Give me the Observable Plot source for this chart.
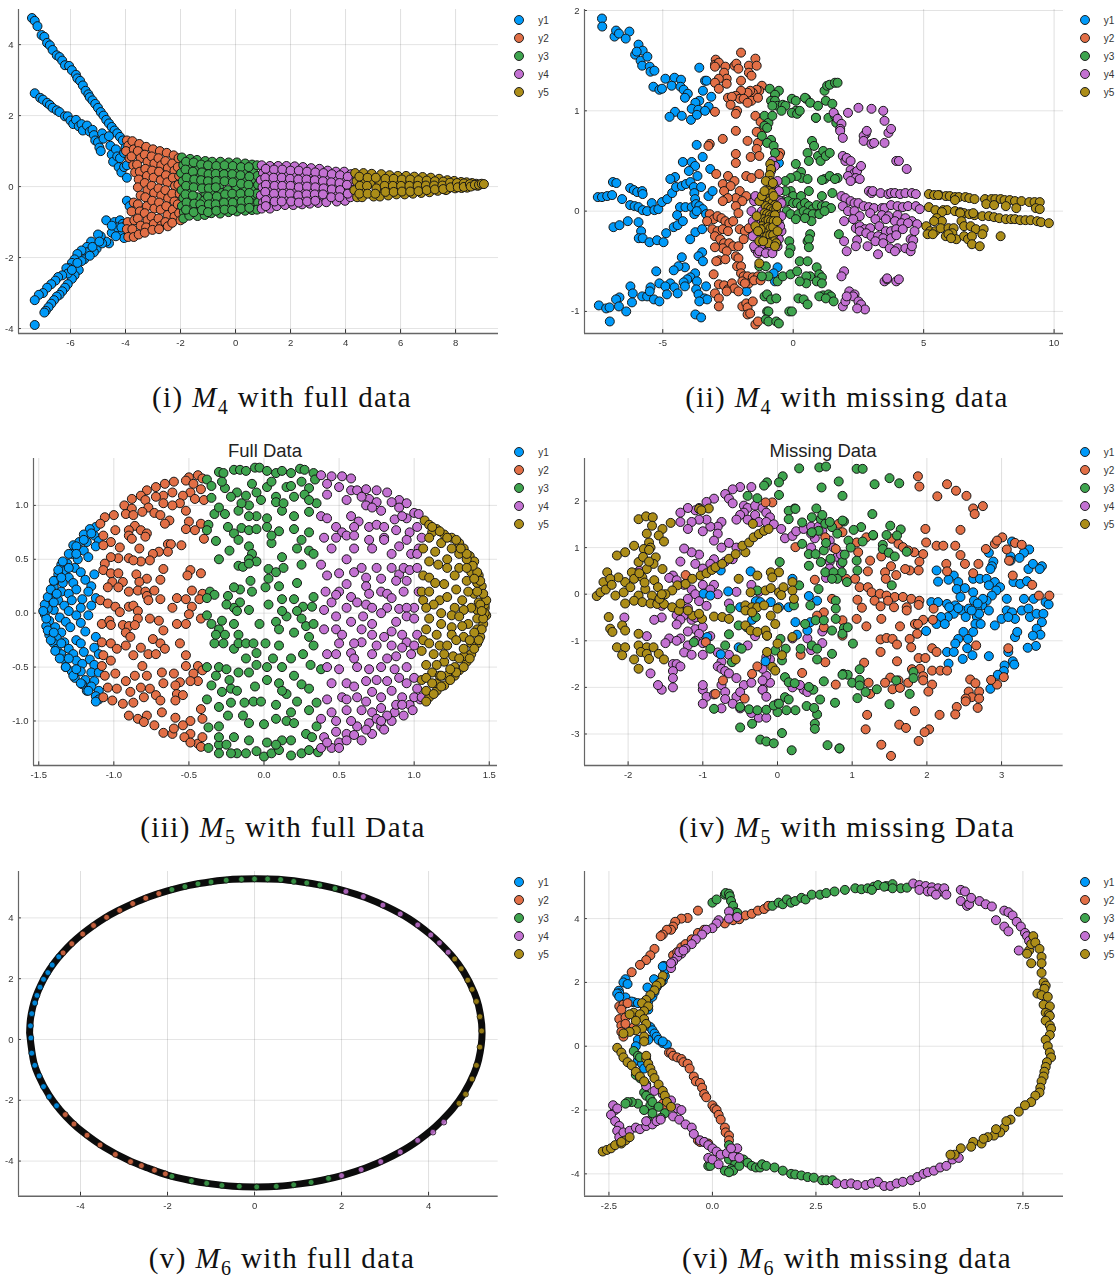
<!DOCTYPE html>
<html><head><meta charset="utf-8">
<script src="https://cdn.jsdelivr.net/npm/d3@7/dist/d3.min.js"></script>
<script src="https://cdn.jsdelivr.net/npm/@observablehq/plot@0.6/dist/plot.umd.min.js"></script>
<style>
html,body{margin:0;padding:0;background:#fff}
#page{position:relative;width:1120px;height:1275px;overflow:hidden;font-family:"Liberation Sans",sans-serif}
#page svg{position:absolute;overflow:visible;background:none;filter:blur(.35px)}
.cap{position:absolute;font-family:"Liberation Serif",serif;font-size:29px;color:#111;white-space:nowrap;transform:translateX(-50%);letter-spacing:1.4px;line-height:30px}
.cap i{font-style:italic}.cap sub{font-size:20px;line-height:0}
.ttl{position:absolute;font-size:18.5px;color:#222;transform:translateX(-50%);white-space:nowrap;line-height:20px}
.lg{position:absolute;font-size:10px;color:#333;line-height:12px}
.lgd{position:absolute;width:8px;height:8px;border-radius:50%;border:1px solid #222}
</style></head><body><div id="page"></div>
<script>
const seriesNames=["y1","y2","y3","y4","y5"];
const seriesColors=["#009AF9","#E26F46","#3EA44E","#C371D2","#AC8D18"];

// (i) M4 full
const a1=[-7.4,4.75,-7.3,4.67,-7.2,4.52,-7.05,4.27,-6.95,4.22,-6.85,4.05,-6.75,3.98,-6.65,3.85,-6.5,3.7,-6.4,3.65,-6.3,3.55,-6.2,3.42,-6.05,3.4,-5.95,3.28,-5.8,3.15,-5.75,3.05,-5.65,2.98,-5.55,2.85,-5.45,2.7,-5.35,2.6,-5.3,2.52,-5.2,2.43,-5.1,2.33,-5,2.22,-4.9,2.1,-4.8,2,-4.7,1.88,-4.6,1.78,-4.5,1.68,-4.4,1.58,-4.3,1.5,-4.2,1.4,-4.1,1.3,-7.3,2.63,-7.1,2.5,-7,2.45,-6.85,2.36,-6.75,2.3,-6.65,2.22,-6.5,2.15,-6.4,2.1,-6.2,1.98,-6.1,1.98,-6,1.86,-5.9,1.76,-5.8,1.88,-5.7,1.7,-5.6,1.76,-5.55,1.58,-5.4,1.72,-5.3,1.55,-5.2,1.6,-5.15,1.45,-5.1,1.3,-5,1.25,-4.95,1.1,-4.9,1,-4.85,1.5,-4.8,1.35,-4.6,1.42,-4.55,1.15,-4.5,.9,-4.45,.7,-4.35,1.05,-4.3,.85,-4.25,.55,-4.2,.8,-4.15,.4,-4.05,.95,-4,1.1,-4.05,.55,-3.95,.25,-3.95,.6,-3.95,-.4,-3.85,-.55,-4.7,-.95,-4.4,-1,-4.2,-.95,-4.1,-1.05,-4,-1.1,-4.4,-1.3,-4.2,-1.3,-4.05,-1.45,-4.6,-1.6,-4.5,-1.3,-4.7,-1.55,-4.9,-1.4,-5,-1.35,-5.05,-1.75,-5.25,-1.55,-5.4,-1.7,-5.15,-1.85,-5.4,-1.85,-5.6,-1.8,-5.75,-1.9,-5.5,-2.05,-5.85,-2.05,-5.95,-2.15,-6.05,-2.3,-6.15,-2.3,-5.7,-2.35,-5.85,-2.5,-5.95,-2.6,-6.1,-2.45,-6.3,-2.5,-6.45,-2.55,-6.55,-2.65,-6.7,-2.75,-6.85,-2.85,-7,-3,-7.15,-3.05,-7.3,-3.2,-6.1,-2.75,-6.2,-2.85,-6.3,-2.95,-6.4,-3.05,-6.5,-3.1,-6.6,-3.2,-6.7,-3.3,-6.8,-3.4,-6.9,-3.5,-6.95,-3.55,-7.3,-3.9,-4.3,-1.15,-4.5,-1.1,-4.15,-1.15,-4.35,-1.4,-4.85,-1.6,-5.2,-1.7,-4.95,-1.55,-5.3,-1.95,-5.6,-2.1,-5.75,-2.15,-5.95,-2.35];
const a2=[-3.95,1.3,-3.9,1.15,-3.98,1,-3.85,.8,-3.92,-1,-3.95,-1.2,-3.9,-1.42,-3.75,1.28,-3.7,1.05,-3.78,.85,-3.72,.6,-3.65,.4,-3.7,-.45,-3.78,-.7,-3.68,-.95,-3.75,-1.2,-3.7,-1.42,-3.5,1.2,-3.55,1,-3.45,.8,-3.58,.62,-3.48,.42,-3.52,.2,-3.55,-.02,-3.45,-.25,-3.55,-.5,-3.48,-.7,-3.55,-.9,-3.45,-1.1,-3.52,-1.35,-3.25,1.12,-3.3,.9,-3.2,.7,-3.28,.5,-3.22,.3,-3.3,.1,-3.2,-.1,-3.28,-.3,-3.22,-.55,-3.3,-.75,-3.2,-.95,-3.25,-1.15,-3.3,-1.3,-3,1.05,-3.05,.85,-2.95,.65,-3.03,.45,-2.98,.25,-3.05,.02,-2.96,-.18,-3.03,-.4,-2.95,-.62,-3.05,-.85,-2.97,-1.05,-3.02,-1.22,-2.75,1,-2.8,.8,-2.7,.6,-2.78,.42,-2.72,.18,-2.8,-.05,-2.7,-.25,-2.78,-.45,-2.72,-.65,-2.8,-.9,-2.7,-1.1,-2.78,-1.2,-2.5,.95,-2.55,.72,-2.46,.52,-2.53,.32,-2.48,.12,-2.55,-.1,-2.45,-.33,-2.52,-.55,-2.47,-.8,-2.55,-1,-2.46,-1.12,-2.25,.88,-2.3,.65,-2.22,.45,-2.28,.25,-2.2,.02,-2.3,-.2,-2.22,-.42,-2.28,-.65,-2.22,-.85,-2.3,-1.02,-2.07,.8,-2.1,.55,-2.05,.3,-2.08,.05,-2.03,-.2,-2.1,-.5,-2.05,-.75,-2,-.95];
const a3=[-1.95,.82,-1.9,.6,-1.98,.38,-1.92,.15,-1.96,-.1,-1.9,-.32,-1.95,-.55,-1.88,-.72,-1.9,-.9,-1.65,.78,-1.7,.55,-1.62,.32,-1.68,.1,-1.62,-.15,-1.7,-.38,-1.62,-.6,-1.68,-.82,-1.4,.75,-1.35,.52,-1.42,.3,-1.36,.08,-1.4,-.3,-1.35,-.52,-1.42,-.72,-1.38,-.83,-1.1,.72,-1.15,.5,-1.08,.28,-1.14,.05,-1.1,-.18,-1.15,-.4,-1.08,-.62,-1.12,-.8,-.85,.7,-.9,.48,-.82,.28,-.88,.08,-.8,-.12,-.88,-.35,-.82,-.58,-.88,-.75,-.55,.7,-.6,.46,-.52,.26,-.58,.04,-.5,-.18,-.58,-.4,-.5,-.6,-.56,-.76,-.25,.68,-.3,.45,-.22,.25,-.28,-.1,-.22,-.35,-.3,-.55,-.25,-.72,.05,.68,0,.45,.08,.22,.02,0,.08,-.3,0,-.5,.05,-.7,.35,.65,.3,.42,.38,.18,.32,-.05,.38,-.28,.3,-.48,.35,-.68,.6,.62,.65,.4,.58,.2,.66,-.05,.6,-.28,.66,-.48,.6,-.66,.78,.6,.8,.3,.82,.05,.78,-.2,.82,-.45,.78,-.65,-1.8,.7,-1.82,.48,-1.78,.25,-1.8,.02,-1.82,-.22,-1.78,-.45,-1.8,-.65,-1.52,.68,-1.55,.42,-1.5,.2,-1.52,-.02,-1.55,-.25,-1.5,-.48,-1.52,-.72,-1.25,.62,-1.22,.4,-1.25,.18,-1.22,-.05,-1.28,-.5,-1.22,-.66,-1,.6,-.98,.35,-1,.15,-.97,-.05,-1,-.28,-.97,-.5,-1,-.72,-.7,.58,-.72,.36,-.7,.16,-.72,-.02,-.68,-.28,-.72,-.5,-.7,-.68,-.4,.6,-.42,.35,-.4,.15,-.38,-.22,-.42,-.45,-.4,-.65,-.1,.58,-.12,.35,-.1,.12,-.12,-.2,-.1,-.45,-.12,-.66,.2,.55,.18,.32,.2,.08,.18,-.2,.22,-.42,.2,-.62,.48,.55,.5,.28,.47,.05,.5,-.18,.48,-.4,.5,-.6];
const a4=[.95,.6,1,.38,.92,.18,.98,-.02,.92,-.25,1,-.45,.95,-.62,1.25,.58,1.2,.36,1.28,.15,1.2,-.08,1.28,-.3,1.2,-.5,1.25,-.62,1.55,.58,1.5,.36,1.58,.12,1.5,-.12,1.58,-.35,1.5,-.55,1.85,.58,1.8,.36,1.88,.12,1.8,-.08,1.88,-.3,1.8,-.52,2.15,.57,2.1,.32,2.18,.12,2.1,-.12,2.18,-.35,2.1,-.52,2.45,.55,2.4,.32,2.48,.08,2.4,-.15,2.48,-.38,2.42,-.5,2.75,.52,2.7,.3,2.78,.15,2.7,-.12,2.78,-.3,2.7,-.48,3.05,.5,3,.3,3.08,.08,3,-.12,3.08,-.3,3,-.46,3.35,.45,3.3,.25,3.38,.05,3.3,-.15,3.38,-.32,3.3,-.44,3.65,.42,3.6,.22,3.68,.02,3.6,-.2,3.68,-.42,3.95,.42,3.9,.2,3.98,0,3.9,-.2,3.98,-.4,4.2,.35,4.18,.12,4.22,-.1,4.18,-.3,1.1,.5,1.08,.25,1.1,.05,1.08,-.15,1.1,-.38,1.1,-.55,1.4,.48,1.38,.25,1.42,.02,1.4,-.2,1.42,-.42,1.7,.48,1.68,.25,1.7,.02,1.72,-.2,1.68,-.42,2,.45,1.98,.22,2,.02,1.98,-.2,2.02,-.42,2.3,.45,2.28,.2,2.3,-.02,2.28,-.25,2.3,-.45,2.6,.42,2.58,.2,2.6,0,2.58,-.22,2.6,-.42,2.9,.4,2.88,.18,2.9,-.02,2.88,-.22,2.9,-.4,3.2,.38,3.18,.15,3.2,-.05,3.18,-.22,3.5,.35,3.48,.12,3.5,-.08,3.48,-.3,3.8,.32,3.78,.1,3.8,-.1,3.78,-.3,4.08,.28,4.05,.05,4.08,-.2];
const a5=[4.35,.38,4.4,.15,4.32,-.1,4.42,-.3,4.65,.38,4.6,.15,4.68,-.12,4.6,-.3,4.95,.36,4.9,.1,5.02,-.28,5.3,.35,5.25,.12,5.32,-.08,5.25,-.28,5.6,.32,5.55,.12,5.62,-.06,5.55,-.25,5.9,.3,5.85,.12,5.92,-.05,5.85,-.22,6.2,.3,6.15,.1,6.22,-.05,6.15,-.22,6.5,.28,6.45,.1,6.52,-.08,6.45,-.2,6.8,.27,6.75,.1,6.82,-.04,6.75,-.18,7.1,.25,7.05,.1,7.12,-.02,7.05,-.16,7.4,.22,7.35,.08,7.42,-.04,7.35,-.12,7.7,.18,7.65,.06,7.72,-.06,7.65,-.1,7.95,.16,7.9,.05,7.98,-.05,8.2,.13,8.15,.04,8.22,-.04,8.4,.12,8.45,.02,8.42,-.03,8.6,.1,8.65,.03,8.75,.08,8.8,.02,8.9,.06,4.5,.28,4.52,.02,4.5,-.2,4.8,.25,4.78,.02,4.8,-.2,5.1,.25,5.12,-.05,5.08,-.2,5.45,.22,5.42,.02,5.45,-.15,5.75,.22,5.72,.02,5.75,-.15,6.05,.2,6.02,.02,6.05,-.14,6.35,.2,6.32,.02,6.35,-.14,6.65,.18,6.62,.02,6.65,-.13,6.95,.17,6.92,.03,6.95,-.1,7.25,.15,7.22,.03,7.25,-.08,7.55,.14,7.52,.03,7.55,-.07,7.8,.11,7.82,-.02,8.05,.1,8.08,-.02,8.3,.09,8.3,-.01,8.52,.07,8.55,0,8.7,.05,8.85,.05,8.95,.08,9.03,.07];

// (ii) M4 missing
const b1=[-7.33,1.92,-7.32,1.84,-6.85,1.74,-6.79,1.8,-6.68,1.77,-6.28,1.79,-6.42,1.72,-5.93,1.66,-6.06,1.56,-5.77,1.6,-6,1.59,-5.85,1.5,-5.59,1.54,-5.79,1.45,-5.5,1.44,-5.47,1.39,-5.32,1.4,-5.36,1.24,-5.13,1.21,-5.03,1.22,-4.9,1.32,-4.55,1.33,-4.66,1.25,-4.3,1.31,-4.32,1.24,-4.2,1.21,-4.04,1.17,-4.15,1.13,-3.6,1.43,-3.38,1.3,-3.32,1.3,-3.46,1.2,-3.14,1.14,-3.6,1.1,-3.75,1.08,-3.89,1.02,-3.64,1.01,-3.24,1.04,-3.38,1,-4.53,.99,-4.74,.94,-4.27,.95,-3.92,.91,-3.69,.96,-3.7,.66,-3.47,.54,-4.23,.49,-3.89,.49,-3.76,.45,-4,.4,-3.18,.42,-3.67,.35,-4.53,.34,-4.71,.32,-6.91,.29,-6.78,.28,-7.49,.14,-7.33,.14,-7.13,.15,-6.94,.16,-6.25,.23,-6.11,.21,-5.98,.19,-5.79,.2,-5.77,.17,-6.56,.12,-6.25,.06,-6.08,.05,-5.93,.04,-5.77,.01,-5.6,0,-5.42,.08,-5.32,.01,-5.17,.02,-5.03,.09,-4.83,.12,-4.64,.18,-4.49,.24,-4.27,.25,-4.11,.27,-3.94,.29,-3.81,.24,-3.53,.24,-3.79,.18,-3.76,.12,-3.25,.15,-3.09,.2,-4.34,.04,-4.13,.04,-3.89,.04,-3.72,.07,-3.6,.05,-3.47,.02,-3.79,-.03,-3.7,0,-4.45,-.04,-3.34,-.03,-6.89,-.16,-6.66,-.14,-6.34,-.1,-5.93,-.11,-5.83,-.2,-5.92,-.27,-5.77,-.27,-5.51,-.31,-5.22,-.29,-4.97,-.31,-4.87,-.22,-4.58,-.16,-4.43,-.14,-4.23,-.1,-3.75,-.21,-3.49,-.18,-3.95,-.28,-3.49,-.41,-3.63,-.45,-3.46,-.5,-4.27,-.46,-4.15,-.56,-4.4,-.55,-4.58,-.59,-5.25,-.6,-3.76,-.62,-3.94,-.66,-4.06,-.68,-4.2,-.71,-3.69,-.7,-5.13,-.72,-4.71,-.72,-4.9,-.75,-4.55,-.76,-5.47,-.76,-6.24,-.75,-6.15,-.82,-5.79,-.85,-5.6,-.85,-5.5,-.8,-5.34,-.88,-5.13,-.9,-4.84,-.83,-4.43,-.82,-4.15,-.75,-3.72,-.78,-3.63,-.83,-3.34,-.75,-3.4,-.87,-3.3,-.88,-3.6,-.9,-6.66,-.86,-6.79,-.88,-6.18,-.91,-6.68,-.95,-7.45,-.94,-7.17,-.97,-7.04,-.96,-6.4,-1,-7.03,-1.1,-3.75,-1.03,-3.53,-1.06,-.6,-.56,-.7,-.7,-.75,-.62,-1.79,-.8,-.55,.48];
const b2=[-2,1.58,-1.45,1.52,-2.97,1.51,-3,1.46,-2.85,1.48,-3,1.44,-2.6,1.44,-2.25,1.45,-2.18,1.47,-2.1,1.42,-1.7,1.45,-1.4,1.45,-2.65,1.38,-1.7,1.38,-1.6,1.35,-2.55,1.32,-2.85,1.32,-2.55,1.27,-2,1.3,-3,1.28,-2.85,1.22,-1.2,1.25,-1.3,1.2,-1.4,1.21,-1.55,1.18,-1.65,1.2,-1.75,1.18,-2,1.2,-2.2,1.15,-2.05,1.12,-1.9,1.12,-1.6,1.1,-1.75,1.08,-1.35,1.13,-2.5,1.13,-2.35,1.14,-2.4,1.06,-2.15,1,-2.2,.97,-3,.99,-1.45,.95,-1.25,.89,-1.2,.8,-1.4,.79,-2.2,.8,-2.7,.72,-1.75,.7,-1.35,.68,-1.4,.62,-2.2,.57,-1.63,.54,-2.2,.48,-3.2,.67,-3.25,.65,-1.3,.55,-.5,.58,-.55,.55,-2.95,.37,-2.5,.35,-2.25,.3,-1.8,.35,-1.6,.33,-1.3,.37,-2.7,.27,-2.4,.25,-2.65,.2,-2.05,.2,-1.8,.15,-2.2,.13,-2.5,.13,-2.7,.1,-1.95,.1,-2.2,.05,-2.1,-.02,-3.2,-.03,-3.05,-.08,-2.9,-.05,-2.75,-.07,-2.6,-.1,-2.45,-.12,-3.3,-.1,-3.1,-.18,-2.9,-.2,-2.7,-.18,-2.5,-.2,-2.3,-.1,-2.05,-.18,-1.85,-.2,-1.7,-.17,-3,-.25,-2.8,-.28,-2.65,-.32,-2.45,-.32,-2.3,-.35,-2.1,-.35,-1.9,-.28,-2.7,-.37,-3,-.36,-2.55,-.4,-2.2,-.45,-2.1,-.47,-2.85,-.49,-2.95,-.5,-2.6,-.48,-2.15,-.55,-2,-.55,-2,-.62,-1.9,-.65,-1.75,-.65,-1.95,-.7,-1.7,-.72,-1.55,-.66,-1.35,-.65,-3.05,-.63,-2.85,-.73,-2.65,-.74,-2.5,-.78,-2.35,-.72,-2.25,-.77,-2.1,-.8,-2.55,-.8,-1.85,-.72,-1.5,-.69,-1.25,-.69,-3,-.82,-2.85,-.87,-2.85,-.95,-1.95,-.95,-1.8,-.92,-1.75,-.96,-1.55,-.9,-1.75,-1.03,-1.65,-1.02,-1.45,-1.13,-1.35,-1.1];
const b3=[-.9,1.22,-.55,1.2,-.7,1.16,-.85,1.1,-.7,1.1,-.6,1.05,-.4,1.06,-.3,1.05,-.05,1.12,.1,1.1,.1,1,-.45,1,-.8,1.05,-.05,.98,.15,.97,.25,1,.5,1.12,.45,1.13,.65,1.08,.87,.93,.95,1.05,1.2,1.2,1.3,1.25,1.4,1.26,1.6,1.28,1.7,1.28,1.25,1.1,1.5,1.07,1.35,.93,1.6,.95,1.65,.88,.87,.93,-1.1,.95,-.95,.88,-1.1,.85,-1,.83,-1.2,.75,-.8,.95,-.85,.71,-1,.68,-.75,.65,-.7,.58,.72,.7,.8,.65,.55,.58,.95,.55,1.05,.5,.6,.5,1.15,.6,1.25,.55,1.4,.58,.1,.47,.3,.39,.32,.33,.55,.32,.13,.35,-.1,.33,-.3,.3,1.2,.32,1.1,.31,1.4,.35,1.7,.33,1.6,.32,-.1,.2,-.3,.2,0,.15,.3,.15,.6,.2,1.1,.15,1.5,.18,-.4,.1,-.2,.1,0,.08,.15,.08,.3,.05,.45,.08,.6,.05,.75,.02,.9,.06,1.1,.05,1.25,.05,1.45,.03,-.25,0,-.1,-.03,.2,-.03,.4,0,.55,-.02,.75,-.03,1,-.03,1.2,0,.7,-.1,.1,-.08,.45,-.07,.55,-.3,.65,-.23,1.75,-.23,.6,-.28,-.15,-.3,-.1,-.37,.6,-.36,-.15,-.42,.25,-.5,.55,-.5,.9,-.56,1,-.63,.65,-.65,-1.3,-.55,-1.05,-.55,-.95,-.65,-1.2,-.65,-.6,-.7,-.4,-.65,-.1,-.63,.15,-.6,.5,-.65,.5,-.72,.25,-.7,1.1,-.66,.9,-.7,1.1,-.72,1.15,-.84,1,-.85,1.35,-.83,1.45,-.85,1.25,-.87,1.55,-.9,-1.1,-.85,-1,-.83,-.85,-.88,-.65,-.87,.2,-.87,.4,-.88,.55,-.93,-1,-1,-.95,-1,-.15,-1,-.05,-1,-1.05,-1.08,-.95,-1.1,-.65,-1.1,-.55,-1.12];
const b4=[-.8,.5,-.7,.45,-.85,.4,-.6,.3,-.75,.25,-.55,.2,-.5,.1,-.45,.08,-1,.15,-1.15,.1,-.9,.05,-1.2,0,-1.25,-.1,-1.3,-.2,-1.25,-.3,-1.1,-.38,-1.2,-.35,-1.45,-.38,-1.35,-.42,-1,-.4,-.8,-.4,-.6,-.35,-.45,-.2,-.45,-.05,-.55,-.12,-.9,-.35,-1.55,-.1,-1.6,0,-1.5,.1,-1.45,.15,-1.55,-.25,-1.5,-.35,-1.3,-.4,-1.05,-.42,-.8,-.42,-.55,-.28,-.5,-.15,1.55,.98,1.7,.92,1.85,.87,1.8,.82,1.8,.8,1.9,.73,2.1,.98,2.5,1.03,3,1.02,3.45,1,2.78,.77,2.7,.75,2.82,.8,3.5,.9,3.5,.68,2.7,.7,3,.67,3.1,.68,3.65,.78,3.75,.82,3.95,.5,4.05,.5,4.35,.42,1.9,.55,2,.5,2.05,.53,2.2,.5,2.2,.41,2.35,.38,2.45,.4,2.1,.35,2.4,.33,2.55,.32,2.6,.45,2.2,.3,2.9,.2,3,.18,3.05,.2,3.35,.18,3.65,.17,3.75,.18,3.9,.18,4.1,.17,4.3,.18,4.55,.18,4.7,.17,1.85,.15,2,.13,2.2,.1,2.35,.08,2.5,.08,2.7,.05,2.9,.04,3.1,.03,3.4,.03,3.5,.03,3.75,.06,4,.05,4.2,.04,4.4,.05,4.7,.05,4.85,.02,1.9,.05,2.1,0,2.35,0,2.55,-.05,2.95,-.02,3.4,-.04,3.65,-.05,4,-.04,4.3,-.07,4.55,-.1,4.75,-.13,1.95,-.1,2.3,-.08,3.15,-.08,3.55,-.08,3.9,-.1,4.15,-.12,4.4,-.12,4.65,-.2,2.4,-.17,2.55,-.15,2.75,-.18,2.95,-.17,3.3,-.15,3.55,-.2,3.75,-.2,3.95,-.18,4.2,-.18,2.55,-.2,2.8,-.22,3,-.25,3.25,-.25,3.45,-.27,3.75,-.27,3.95,-.24,4.5,-.28,1.95,-.3,2.45,-.29,4.6,-.29,1.95,-.6,2.05,-.4,2.4,-.35,2.85,-.35,3.15,-.3,3.45,-.32,3.7,-.37,4,-.37,4.3,-.37,3.9,-.4,4.5,-.4,3.25,-.43,4.55,-.35,3.5,-.7,3.6,-.68,3.6,-.67,3.95,-.7,4.05,-.68,1.85,-.65,2.15,-.8,2.35,-.83,2.3,-.85,2.5,-.9,2.6,-.93,2.75,-.98,1.9,-.95,2,-.9,2.45,-.97,2.05,-.85];
const b5=[-.88,.47,-.85,.42,-.9,.36,-.87,.3,-.85,.25,-.92,.2,-.82,.18,-.98,.12,-.9,.1,-.8,.08,-.7,.06,-1.05,.05,-.95,.03,-.85,.02,-.75,.01,-.65,.02,-1.1,-.02,-1,-.03,-.9,-.04,-.8,-.05,-.7,-.04,-1.15,-.08,-1.05,-.1,-.95,-.09,-.85,-.1,-.75,-.1,-1.2,-.15,-1.08,-.17,-.97,-.16,-.87,-.17,-.77,-.16,-1.1,-.22,-1,-.25,-.88,-.24,-.77,-.24,-.85,-.31,-.72,-.3,-1.25,-.18,-.95,-.32,-1.3,-.52,-1.4,-.05,-1.45,-.15,-1.35,-.2,-1.3,-.3,-.62,-.1,-.6,-.2,-.65,-.32,-.62,.05,-1.3,.1,-1.2,.15,-1.1,.2,-1.05,.3,-.75,.15,-.78,.28,-.7,-.35,-1.15,-.3,5.2,.17,5.4,.16,5.6,.16,5.85,.15,6,.15,6.2,.14,6.35,.14,6.6,.14,6.75,.13,6.95,.12,5.55,.16,6.2,.11,7.35,.12,7.6,.12,7.75,.12,7.95,.12,8.1,.11,8.3,.11,8.5,.1,8.75,.1,9.05,.09,9.25,.09,9.45,.09,7.4,.07,7.7,.06,8.15,.05,8.55,.03,9.3,.03,9.45,.02,5.2,.04,5.45,.01,5.75,.01,5.9,.01,5.7,-.01,6.2,0,6.4,-.01,6.55,-.02,6.75,-.03,6.95,-.04,7.25,-.05,7.5,-.05,7.7,-.06,7.9,-.07,8.15,-.08,8.35,-.08,8.5,-.08,8.7,-.09,8.9,-.09,9.1,-.09,9.35,-.1,9.5,-.11,9.8,-.12,6.9,-.02,6.4,-.02,5.5,-.07,5.7,-.1,5.4,-.1,5.1,-.15,5.25,-.2,5.45,-.2,5.65,-.17,5.95,-.17,6.15,-.17,6.1,-.22,6.45,-.1,6.55,-.15,6.8,-.15,7,-.18,7.3,-.18,5.15,-.23,5.35,-.23,5.85,-.25,5.95,-.23,6.25,-.28,6.05,-.27,6.55,-.25,6.7,-.28,6.85,-.25,7.25,-.23,6.85,-.33,7.15,-.35,7.95,-.25];

// (iii) M5 full
const c1=[-1.12,.8,-1.16,.78,-1.2,.73,-1.13,.72,-1.1,.67,-1.18,.66,-1.23,.66,-1.27,.63,-1.12,.62,-1.2,.58,-1.28,.55,-1.17,.52,-1.24,.5,-1.31,.46,-1.35,.45,-1.26,.42,-1.33,.39,-1.37,.36,-1.22,.38,-1.13,.36,-1.3,.33,-1.39,.3,-1.34,.28,-1.27,.28,-1.19,.31,-1.15,.25,-1.25,.22,-1.4,.24,-1.35,.2,-1.3,.18,-1.42,.16,-1.17,.2,-1.21,.13,-1.37,.12,-1.44,.1,-1.28,.12,-1.33,.07,-1.12,.14,-1.4,.03,-1.44,.04,-1.46,-.01,-1.3,.02,-1.22,.05,-1.15,.07,-1.17,-.02,-1.25,-.02,-1.36,-.04,-1.43,-.07,-1.32,-.08,-1.22,-.09,-1.45,-.12,-1.39,-.13,-1.29,-.13,-1.35,-.18,-1.43,-.2,-1.38,-.23,-1.19,-.17,-1.12,-.22,-1.4,-.28,-1.33,-.27,-1.25,-.25,-1.38,-.33,-1.3,-.33,-1.22,-.28,-1.13,-.32,-1.1,-.38,-1.35,-.38,-1.27,-.38,-1.2,-.36,-1.16,-.43,-1.33,-.43,-1.25,-.44,-1.32,-.5,-1.21,-.47,-1.13,-.48,-1.28,-.54,-1.22,-.54,-1.15,-.55,-1.1,-.55,-1.26,-.6,-1.19,-.62,-1.13,-.63,-1.21,-.66,-1.15,-.68,-1.1,-.72,-1.18,-.72,-1.12,-.77,-1.1,-.8,-1.46,.08,-1.45,-.05,-1.47,.02,-1.44,.15,-1.42,.22,-1.4,.3,-1.37,.4,-1.34,.48,-1.3,.55,-1.25,.62,-1.2,.68,-1.15,.74,-1.44,-.16,-1.42,-.25,-1.39,-.35,-1.36,-.42,-1.32,-.5,-1.27,-.58,-1.22,-.65,-1.17,-.72,-1.12,-.82,-1.4,.1,-1.38,.18,-1.35,.33,-1.3,.42,-1.25,.55,-1.4,-.18,-1.35,-.28,-1.3,-.42,-1.25,-.52];
const c2=[-.44,1.28,-.5,1.26,-.52,1.23,-.6,1.22,-.66,1.2,-.72,1.17,-.78,1.14,-.82,1.09,-.88,1.06,-.93,1,-1,.91,-1.06,.89,-1.09,.83,-.41,1.25,-.47,1.2,-.42,1.15,-.49,1.12,-.54,1.09,-.61,1.12,-.67,1.09,-.72,1.08,-.79,1.05,-.4,1.05,-.46,1.06,-.56,1.02,-.61,1,-.67,1.02,-.77,.98,-.73,.93,-.69,.91,-.81,.94,-.88,.97,-.92,.92,-.87,.91,-.52,.95,-.5,.85,-.63,.86,-.66,.83,-.52,.78,-.42,.83,-.46,.77,-.4,.69,-.86,.81,-.9,.77,-.99,.77,-1.07,.72,-.82,.77,-.78,.74,-.79,.71,-.9,.72,-.88,.69,-1.02,.66,-1.07,.63,-.96,.61,-.83,.6,-.64,.64,-.62,.64,-.55,.63,-.64,.57,-.7,.57,-.74,.55,-.76,.49,-.82,.48,-.9,.51,-.87,.49,-.97,.51,-1.02,.52,-1.06,.46,-1.07,.4,-1.02,.37,-.97,.37,-.94,.29,-1.01,.29,-1.04,.24,-.97,.24,-.85,.36,-.78,.32,-.83,.29,-.69,.31,-.67,.41,-.49,.4,-.51,.35,-.42,.37,-.9,.2,-.84,.21,-.79,.2,-.73,.21,-.69,.13,-.78,.16,-.77,.12,-.48,.21,-.41,.18,-.43,.13,-.58,.14,-.52,.13,-1.09,.12,-1.04,.09,-.99,.06,-.96,.01,-.9,.06,-.87,.07,-.84,.02,-.61,.05,-.48,.06,-.5,-.01,-1.08,-.1,-1.03,-.07,-1.02,-.11,-.94,-.11,-.9,-.12,-.84,-.05,-.76,-.05,-.7,-.07,-.86,-.11,-.92,-.18,-.89,-.22,-.67,-.16,-.58,-.1,-.52,-.1,-.42,-.05,-.74,-.24,-.69,-.28,-.66,-.33,-.56,-.28,-1.08,-.27,-1.02,-.28,-.92,-.3,-.82,-.32,-.98,-.33,-.77,-.38,-.72,-.38,-.52,-.39,-1.07,-.39,-1.08,-.49,-1.02,-.44,-.87,-.39,-.52,-.49,-.44,-.49,-.41,-.53,-.81,-.49,-.68,-.55,-.6,-.56,-.47,-.56,-.44,-.63,-.49,-.63,-.67,-.65,-.56,-.64,-.59,-.67,-1.06,-.58,-.99,-.56,-.92,-.63,-.86,-.58,-.78,-.58,-1.04,-.69,-.98,-.7,-.82,-.69,-.76,-.7,-.89,-.73,-.58,-.75,-.54,-.76,-.59,-.81,-.72,-.76,-.69,-.81,-.8,-.78,-1.07,-.78,-1.01,-.81,-.94,-.84,-.87,-.83,-.42,-.89,-.9,-.95,-.84,-.98,-.78,-.95,-.68,-.92,-.59,-.97,-.49,-1,-.41,-.98,-.8,-1.01,-.73,-1.04,-.67,-1.11,-.61,-1.12,-.54,-1.04,-.49,-1.12,-.44,-1.21,-.41,-1.15,-.53,-1.15,-.49,-1.2,-.6,-1.07,-.42,-1.24];
const c3=[-.38,1.24,-.3,1.31,-.27,1.3,-.2,1.33,-.16,1.33,-.12,1.32,-.06,1.35,-.03,1.35,.02,1.32,.08,1.3,.12,1.32,.18,1.3,.24,1.34,.27,1.33,.33,1.3,-.35,1.18,-.26,1.16,-.18,1.12,-.12,1.09,-.08,1.2,.02,1.17,.08,1.08,.15,1.17,.25,1.22,.3,1.16,-.35,1.07,-.22,1.08,-.1,1,-.02,1.05,.08,1.03,.2,1.08,.27,1.1,.35,1.02,-.26,.92,-.33,.92,-.17,.95,-.05,.9,.02,.88,.12,.95,.2,.9,.3,.94,-.37,.82,-.38,.77,-.24,.8,-.2,.74,-.15,.79,-.1,.77,-.05,.78,.02,.8,.1,.76,.2,.78,.3,.75,-.32,.67,-.23,.58,-.17,.68,-.1,.62,-.08,.55,-.1,.5,-.05,.48,.05,.65,.12,.52,.22,.6,.3,.58,.33,.55,-.17,.44,-.14,.43,-.1,.46,.03,.41,.08,.38,.13,.42,.25,.45,.03,.32,-.09,.3,-.16,.22,-.2,.24,.01,.24,.1,.25,.22,.28,.33,.15,-.36,.2,-.33,.17,-.38,.14,-.24,.16,-.16,.1,-.2,.05,-.18,.02,-.1,.03,.03,.08,.12,.13,.2,.13,.26,.06,.32,.06,-.38,-.02,-.35,-.1,-.3,-.15,-.26,-.2,-.2,-.1,-.17,-.2,-.03,-.1,.08,-.08,.15,-.03,.22,.02,.28,-.12,.1,-.15,-.33,-.28,-.27,-.28,-.2,-.33,-.17,-.28,-.12,-.28,-.07,-.28,.01,-.28,.1,-.3,.2,-.18,.3,-.22,.33,-.3,-.38,-.5,-.3,-.5,-.25,-.52,-.32,-.58,-.23,-.62,-.17,-.55,-.1,-.55,-.05,-.48,.02,-.5,.12,-.5,.2,-.58,.26,-.38,.31,-.48,.38,-.52,-.35,-.67,-.28,-.73,-.22,-.7,.02,-.62,.1,-.65,.25,-.66,.3,-.7,-.38,-.8,-.3,-.87,-.22,-.83,-.13,-.83,-.07,-.82,-.02,-.82,.08,-.85,.15,-.75,.22,-.82,.35,-.83,-.37,-1.06,-.3,-1.05,-.24,-.95,-.14,-.95,-.1,-1.02,0,-1.03,.08,-.98,.15,-1,.2,-1.02,.3,-.9,.35,-1.05,-.37,-1.25,-.3,-1.22,-.25,-1.22,-.18,-1.3,-.12,-1.3,-.05,-1.28,0,-1.33,.05,-1.3,.1,-1.27,.18,-1.32,.25,-1.3,.3,-1.27,.36,-1.29,.02,-1.2,.12,-1.18,-.28,1.22,-.05,1.12,.05,1.22,.18,1.18,.34,1.24,-.3,.98,-.15,1.02,.13,1.02,.3,1.05,-.1,.9,.05,.72,.25,.68,-.3,.5,-.25,.08,-.08,.2,.12,.02,.25,-.05,-.28,-.07,-.32,-.2,-.12,-.42,-.05,-.37,.06,-.42,.18,-.42,.33,-.1,-.18,-.72,-.06,-.68,.12,-.72,.18,-.92,.28,-1.12,.18,-1.18,.08,-1.22,-.1,-1.18,-.2,-1.15,-.3,-1.15,-.22,-1.3,-.3,-1.3,.32,-1.15];
const c4=[.38,1.28,.45,1.27,.52,1.27,.58,1.25,.68,1.15,.75,1.14,.82,1.12,.9,1.05,.95,1.02,.42,1.2,.5,1.17,.58,1.14,.62,1.14,.7,1.06,.75,1.03,.68,1,.72,.98,.85,1.03,.9,.98,1,.93,1.03,.92,1.02,.8,.38,.9,.42,.88,.48,.8,.52,.75,.58,.9,.63,.85,.6,.8,.7,.8,.75,.82,.8,.8,.8,.7,.87,.87,.88,.77,.95,.88,.97,.75,1.03,.6,1.05,.7,.4,.7,.48,.7,.55,.72,.6,.72,.7,.68,.8,.68,.95,.68,.98,.55,1.02,.55,.38,.45,.42,.35,.5,.37,.6,.38,.65,.42,.75,.42,.85,.42,.9,.36,.93,.42,.97,.4,1.02,.42,.95,.3,.68,.33,.55,.27,.5,.2,.58,.15,.68,.25,.7,.18,.78,.2,.82,.18,.85,.14,.93,.2,1.03,.2,.41,.2,.48,.17,.68,.08,.72,.05,.82,.05,.9,.04,1,.05,.95,.05,.4,.03,.48,-.03,.58,-.08,.66,-.03,.72,-.1,.95,-.03,1,-.05,.4,-.15,.48,-.15,.52,-.2,.65,-.15,.72,-.2,.8,-.22,.85,-.17,.92,-.2,1.02,-.2,.65,-.27,.75,-.3,.85,-.3,.95,-.27,.42,-.38,.48,-.38,.58,-.37,.6,-.42,.82,-.42,.88,-.4,.98,-.38,.42,-.5,.5,-.52,.62,-.5,.7,-.52,.78,-.5,.87,-.52,.95,-.5,1,-.6,.45,-.65,.55,-.65,.6,-.68,.68,-.63,.75,-.62,.82,-.63,.9,-.6,.95,-.65,1.02,-.7,.42,-.8,.52,-.78,.62,-.78,.72,-.73,.78,-.78,.85,-.72,.92,-.78,.97,-.85,1.04,-.8,.38,-.98,.45,-.92,.55,-.9,.65,-.9,.72,-.92,.78,-.88,.87,-.92,.93,-.95,.99,-.9,.4,-1.15,.48,-1.1,.55,-1.12,.62,-1.05,.7,-1.02,.78,-1.05,.85,-1,.45,-1.25,.5,-1.2,.6,-1.13,.65,-1.18,.72,-1.12,.8,-1.08,.42,1.1,.55,1.05,.65,1.08,.78,.95,.92,.9,.45,.6,.6,.6,.72,.6,.85,.55,.9,.62,.55,.5,.78,.32,.88,.3,.45,.1,.55,.05,.62,.1,.78,0,.88,-.08,.5,-.28,.6,-.28,.72,-.38,.92,-.32,1,-.3,.55,-.8,.68,-.82,.88,-.85,.48,-1,.58,-1,.75,-.98,.82,-.95,.92,-.85,.55,-1.18,.68,-1.08,.78,-1,.38,-1.25,.42,-1.2,.5,-1.25,1,-.78,1.05,-.78];
const c5=[1.07,.86,1.1,.82,1.15,.78,1.2,.73,1.25,.7,1.3,.65,1.33,.6,1.37,.53,1.4,.48,1.43,.35,1.45,.25,1.47,.12,1.47,.05,1.48,-.02,1.46,-.1,1.44,-.22,1.42,-.28,1.38,-.38,1.35,-.45,1.3,-.53,1.27,-.58,1.2,-.67,1.15,-.72,1.1,-.78,1.08,-.82,1.12,.75,1.18,.65,1.25,.6,1.3,.55,1.35,.5,1.38,.38,1.42,.28,1.4,.18,1.43,.1,1.42,.03,1.42,-.05,1.42,-.15,1.38,-.28,1.33,-.4,1.27,-.5,1.22,-.58,1.15,-.65,1.08,-.72,1.1,.7,1.06,.6,1.14,.57,1.22,.5,1.3,.42,1.35,.3,1.36,.2,1.38,.05,1.36,-.1,1.33,-.22,1.26,-.4,1.2,-.45,1.12,-.55,1.05,-.62,1.1,.48,1.16,.45,1.22,.42,1.27,.35,1.06,.35,1.1,.33,1.14,.28,1.2,.27,1.28,.22,1.32,.12,1.05,.2,1.1,.2,1.17,.12,1.22,.15,1.27,.05,1.33,.03,1.06,.12,1.13,.08,1.25,-.02,1.08,.05,1.18,0,1.3,-.03,1.1,-.05,1.18,-.1,1.25,-.13,1.32,-.12,1.08,-.15,1.15,-.2,1.25,-.2,1.28,-.25,1.06,-.25,1.1,-.28,1.17,-.3,1.22,-.3,1.05,-.35,1.13,-.38,1.2,-.38,1.08,-.48,1.15,-.48,1.08,-.6,1.17,-.58,1.47,.08,1.48,.12,1.47,0,1.46,.18,1.44,.3,1.42,.38,1.39,.44,1.35,.55,1.31,.6,1.28,.68,1.22,.7,1.17,.76,1.12,.8,1.46,-.05,1.45,-.15,1.43,-.25,1.4,-.33,1.37,-.42,1.33,-.5,1.28,-.55,1.24,-.62,1.18,-.68,1.13,-.75,1.44,.08,1.45,.02,1.42,.2,1.4,.32,1.35,.42,1.4,-.18,1.37,-.25,1.33,-.33,1.3,-.42,1.24,-.52,1.18,-.58,1.12,-.65];

// (iv) M5 missing
const d1=[2.13,.51,2.15,.27,2.36,.4,2.29,.31,2.42,.26,2.4,.11,2.51,.13,2.45,-.06,2.62,.33,2.71,.33,2.8,.33,2.91,.26,2.98,.15,2.83,.19,2.93,.08,2.87,-.03,2.8,-.14,2.74,-.24,2.62,.04,2.63,-.14,2.06,-.17,2.15,-.17,2.27,-.21,2.38,-.24,2.47,-.35,2.56,-.31,2.67,-.31,2.83,-.35,2.36,-.42,2.52,-.49,2.28,-.49,2.19,-.49,2.13,-.64,2.24,-.64,2.67,-.49,2.65,-.64,2.72,-.64,2.62,-.81,2.49,-.81,2.42,-.96,2.55,-.96,2.38,-1.06,2.27,-1.24,2.36,-1.24,2.54,-1.16,2.48,-1.39,2.61,-1.31,2.83,-1.33,2.29,-1.49,1.99,-.79,2.91,-.67,3,-.53,3.07,-.35,3.07,-.1,3.16,.26,3.25,.22,3.34,.28,3.14,-.39,3.18,-.53,3.09,-.49,3.3,-.1,3.27,-.35,3.36,-.31,3.38,-.49,3.47,-.42,3.43,-.1,3.59,-.17,3.56,-.42,3.63,-.22,3.54,-.6,3.47,-.74,3.52,-.87,3.42,-.89,3.18,-.92,3.21,-.81,3.46,-1.11,3.35,-1.15,3.36,.54,3.42,.65,3.54,.6,3.51,.54,3.14,1.13,3.37,.96,3.3,.89,3.12,.81,3.24,.78,3.12,.72,2.83,.89,2.89,.7,2.87,.6,2.85,.54,3.15,-1.44,3.17,-1.51,3.04,-1.53,3.03,-1.65,2.95,-1.73,2.85,-2.03,3.09,-1.24,2.75,-.1,2.68,-.2,2.7,-.42,2.6,-.35,2.42,-.3,2.3,-.28,-.76,.51,-.99,.01,-.9,-.03,-.66,.06,-.36,.49,-.5,-.28,-.34,-.55,-.29,-.15,-.23,-.17,-.09,-.17,.02,-.28,.15,-.28,.2,.33,.42,-.04,.53,-.14,.24,-.6,.44,-.6,.4,-.78,.26,-.87,-.76,-1.29,-.52,-1.14,-.16,-1.44,-.94,-.92];
const d2=[1.88,2.53,1.9,2.31,2.27,2.36,2.39,2.22,2.14,2.1,2.53,2.11,2.62,1.84,2.75,1.89,2.64,1.72,1.98,1.4,2.45,1.38,1.99,1.11,2.13,1.04,2.22,1.04,2.38,1.04,1.95,.86,1.83,.9,1.9,.7,2.45,.84,2.51,.65,2.26,.65,2.27,.49,2.62,.45,2.69,.65,1.89,.51,1.77,.51,1.71,.54,1.59,.41,1.52,.6,1.44,.47,1.45,.33,1.39,.81,1.24,.72,1.21,.49,1.53,1.19,1.62,1.08,1.68,1.01,1.75,.94,1.28,1.26,1.19,1.22,1.06,1.11,1.08,.9,.92,.33,1.04,.33,1.1,.15,1.21,.15,1.26,.04,1.37,.01,1.46,-.03,1.57,-.06,1.68,-.06,1.79,-.1,1.9,-.14,1.3,-.14,1.48,-.14,1.38,-.26,1.56,-.28,1.73,-.28,1.73,-.35,1.89,-.23,1.07,-.12,1.13,-.29,2.09,-.31,2.08,-.55,1.95,-.55,1.84,-.64,1.88,-.64,1.39,-.53,1.06,-.53,1.19,-.69,1.64,-.69,1.87,-.85,1.77,-.96,1.38,-.97,1.46,-.94,1.54,-.96,1.6,-1.08,1.79,-1.14,1.38,-1.24,1.6,-1.44,1.89,-1.37,1.98,-1.37,2.07,-1.16,2.13,-1.24,2.66,-1.1,3.09,-1.16,1.8,-1.61,1.91,-1.6,2.07,-1.64,2.18,-1.64,2.27,-1.64,1.95,-1.76,1.95,-1.85,2.07,-1.94,2.02,-2.09,1.51,-1.79,1.44,-1.9,1.62,-1.85,1.75,-1.9,1.54,-2.04,1.64,-2.01,1.24,-2.14,1.22,-1.9,1.16,-1.47,2.58,-1.83,2.65,-1.91,3.03,-1.78,2.94,-1.94,2.86,-1.84,2.56,-2.09,2.7,-2.09,2.6,-2.21,2.52,-2.24,2.52,-2.3,2.7,-2.24,2.68,-2.44,2.4,-2.42,2.38,-2.58,2.17,-2.59,1.84,-2.51,1.2,-2.59,1.18,-2.9,1.63,-2.8,1.72,-2.87,2.03,-2.9,1.97,-2.96,1.89,-3.15,1.39,-3.23,1.52,-3.47,2.79,.97,2.91,1.08,3.01,1.22,2.94,1.15,3.07,.96,3.18,1.1,3.27,1.06,3.1,.72,3.41,.2,3.5,-.03,3.64,-.03,3.15,.4,-.27,-1.55,-.34,-1.71,.33,-1.69,.64,-1.46,.78,-1.94,-.44,-2.24,-.73,-1.85,-1.23,.41,-.83,-2.14,.31,-1.3,.5,.31,.62,-.39,.62,-.71,.53,-.46,.24,1.01,.87,-.89,.87,-.56,.73,-.1,-.96,-1.03,-.07,1.97,-.16,1.97,.82,1.51,.78,.97,.64,1.22,.87,1.33];
const d3_=[.29,2.7,.56,2.72,.65,2.74,.59,2.29,.82,2.42,.87,2.11,.07,2.53,-.14,2.4,-.18,2.33,.02,2.4,.02,2.13,-.4,2.11,-.27,2.06,.52,1.84,.23,1.84,.15,1.79,1.06,2.69,1.14,2.69,1.3,2.36,1.5,2.49,1.63,2.38,1.27,1.72,.89,1.56,1.51,1.47,1.65,1.39,1.12,1.44,1.02,1.38,1.28,1.27,1.46,1.27,1.6,1.26,1.41,1.06,1.41,.97,1.49,.89,1.57,.81,1.73,.91,1.14,1.13,1.06,.72,1.07,.51,.93,.26,.86,.47,1.53,.19,.89,-.73,1.01,-1.06,.87,-.85,.94,-.71,.88,-1.71,.94,-1.73,1,-1.9,1.1,-1.84,1.1,-1.96,1.18,-2.1,1.33,-2.04,1.07,-2.23,1.1,-1.61,1.59,-1.85,1.82,-1.67,1.82,-1.8,1.77,-2.14,1.5,-2.36,.83,-3.31,-.5,-2.86,.06,-2.98,.19,-3.35,-.23,-3.12,-.15,-3.16,-.05,-3.2,.67,-3.24,.83,-3.31,.5,-2.78,.5,-2.89,.53,-2.58,.39,-2.4,.49,-2.44,.77,-2.33,.57,-2.26,.48,-2.05,.42,-1.99,.62,-1.87,.87,-1.73,.1,-1.78,.15,-1.89,.23,-1.91,.1,-2.21,.15,-2.26,.24,-2.49,.12,-2.49,0,-2.53,-.15,-2.48,-.05,-2.39,.02,-2.35,-.38,-2.47,-.27,-2.49,-.34,-2.78,-.5,-2.42,-.85,-2.46,-.9,-1.17,-.61,-1.46,-.7,-1.1,-.65,-.86,-.48,-1.17,-1.12,-1.03,-.52,-.67,-.41,-.71,-.29,-.49,-.63,-.31,-.27,.08,.29,.19,.03,.69,.46,-1.1,.53,-1.4,.31,-1.17,.53,-1.17,.73,-1.28,.73,-.78,.37,-.64,.51,-.56,.62,-.56,.78,-.53,.78,-.14,.78,-.31,.44,-.24,.22,-.24,-.14,-.89,-.03,-1.21,.04,-.96,.11,-1.17,.06,-1.42,.24,1.83,.15,1.61,.33,1.54,.46,1.65,.58,1.61,.64,1.51,.73,1.44,.87,1.58,.55,1.36,.46,1.33,.33,1.08,.42,.86,.51,.86,.42,.61,.62,.94,.71,.76,.58,.69,.64,.47,.75,.47,.87,.69,.8,.33,.55,.11,.73,.33,.6,1.7,.7,1.55,.8,1.3,.95,1.15,.98,1,.65,1.1,.9,.85];
const d4=[-.35,2.3,-.5,2.3,-.6,2.25,-.7,2.15,-.65,2.05,-.85,2.05,-.95,1.98,-1.05,1.85,-1.1,1.8,-1.2,1.85,-1.3,1.75,-.6,1.95,-.45,1.9,-.4,1.85,-.3,1.9,-.2,1.85,-.15,1.75,-.3,1.7,-.1,1.65,-.45,1.75,-.5,1.7,-.55,1.6,-.4,1.6,-.25,1.55,-.15,1.55,-.05,1.5,.05,1.4,.1,1.2,.2,1.25,.25,1.35,.35,1.4,.45,1.45,.55,1.45,.6,1.35,.5,1.2,.45,1.3,.7,1.15,.45,1,.75,1,.8,.8,.7,.7,.7,.55,.65,.35,.85,.85,.85,.65,-.75,1.55,-.8,1.45,-.9,1.45,-.95,1.6,-1.05,1.6,-1.15,1.55,-1.3,1.55,-1.2,1.4,-1,1.35,-.8,1.3,-.85,1.15,-.65,1.1,-.55,1,-.75,1,-.6,.75,-.7,.7,-.85,.75,-.9,.65,-1.1,.65,-1.05,.85,-1.15,.9,-1.25,.98,-1.3,.7,-1.2,.35,-1,.55,-1.4,.4,-1.45,.35,-1.35,.3,-1.25,.2,-1.15,.1,-1,.2,-.85,.2,-.9,.1,-.8,0,-1.1,0,-1.2,-.1,-1.05,-.15,-.95,-.25,-1.2,-.3,-1.25,-.45,-1.15,-.55,-1.1,-.5,-1.35,-.45,-1.3,-.55,-1.55,-.5,-1.65,-.55,-1.35,-.65,-1.1,-.75,-1,-.7,-.9,-.9,-1.05,-.85,-1.2,-.8,-1.3,-.95,-1.45,-.95,-1.35,-1,-1.5,-1.05,-1.2,-1.1,-1.1,-1,-1,-1.05,-1.25,-1.25,-1.15,-1.3,-1.4,-1.5,-1.35,-1.5,-1.3,-1.55,-1.4,-1.65,-1.4,-1.8,-1.4,-2,-1.55,-2.05,-1.6,-1.95,-1,-1.3,-.8,-1.25,-.75,-1.45,-.8,-1.55,-.75,-1.6,-.7,-1.65,-.65,-1.7,-.55,-1.8,-.45,-1.95,-.35,-1.9,-.15,-1.9,-.2,-2.05,-.75,-1.95,-1,-2.05,-1,-1.95,-.95,-2.2,-.85,-2.15,-.7,-2.1,-.7,-2.25,-.75,-2.45,-.55,-2.2,-.5,-2.1,-.6,-2.35,-.5,-2.45,-.25,-2.65,-.35,-2.55,-.15,-2.65,-1,-2.35,-.1,-1.9,-.15,-1.75,-.1,-1.4,-.15,-1.35,-.2,-1.6,-.2,-1.85,-.2,-2.05,-.15,-2.2,0,-2.35,.35,-2.05,.4,-2.1,-.65,-1.3,-.4,-1.1,-.3,-.9,-.25,.05,-.35,.2,-.55,.05,-.65,-.2,.2,-.95,.4,-.95,.6,-.8,.6,-1.05,.45,-1.2,.2,-2,.3,-1.95,-1.85,.5,-1.85,.4,-2.05,-.5,-1.75,-.9,-1.7,-1.7,-1.6,-.15,-1.55,-.25,-1.9,.45];
const d5=[-2.26,-.49,-2.24,-.74,-2.21,-.81,-2.08,-.67,-2.04,-.78,-1.86,-.85,-2.15,-1.14,-2.04,-1.14,-1.86,-1.1,-2.08,-1.31,-1.75,-1.14,-1.92,-1.4,-1.83,-1.24,-1.75,-1.28,-1.66,-1.14,-1.59,-1.28,-1.52,-1.4,-1.72,-1.39,-1.86,-1.6,-1.34,.19,-1.23,.22,-1.14,.33,-1.03,.4,-.95,.45,-.88,.52,-.83,.58,-.74,.65,-.65,.76,-.56,.86,-.43,.9,-.47,1.04,-.38,1.11,-.32,1.22,-.25,1.29,-.18,1.36,-.12,1.4,-.33,1.51,-1.05,1.83,-.92,1.84,-1.02,1.8,-2.42,-.04,-2.37,.04,-2.33,.26,-2.28,.47,-2.15,.83,-2.04,.9,-1.92,1.04,-1.86,1.61,-1.76,1.67,-1.67,1.65,-1.68,1.47,-1.54,1.4,-1.43,1.53,-1.59,1.26,-1.52,1.13,-1.72,1.11,-1.79,.97,-1.86,.69,-1.63,.79,-1.66,.65,-1.54,.54,-1.75,.54,-1.95,.47,-1.92,.33,-1.81,.36,-2.04,.26,-2.13,.36,-2.24,.33,-2.17,-.03,-2.06,.04,-1.97,.15,-1.86,-.03,-1.77,.11,-1.68,-.03,-2.04,-.2,-1.92,-.14,-1.81,-.17,-1.7,-.2,-1.61,-.21,-1.52,-.21,-1.41,-.28,-1.32,-.35,-1.14,-.46,-1.01,-.53,-.85,-.48,-.74,-.49,-.65,-.53,-1.41,.08,-1.5,0,-1.58,-.1,-1.75,1.3,-1.7,1.0,-1.8,.8,-1.72,.7,-1.85,.45,-1.78,.25,-1.65,.3,-1.72,.95,-1.6,.15,-1.55,.0,-2.3,.1,-2.22,.2,-1.3,-.2,-1.2,-.35,-1.05,-.42,-.52,.33,-.27,.4,-.09,.47,.02,.47,-.07,.36,-.36,.04,-.16,.08,-.09,.13,.02,.04,.08,.15,.2,.26,.2,.08,.22,-.1,.05,-.02,-.43,-.24,-.34,-.28,-.27,-.28,-.18,-.24,-.43,-.35,-.34,-.39,-.09,-.46,0,-.31,-.03,-.64,-.43,-.67,-.36,-.78,-.16,-.78,-.27,-.81,-.14,-.89,.2,-.92,0,-1.06,-.14,-1.24,.06,-1.31,-.07,-1.56,-.56,-1.4,-.03,-1.64];

// (v) M6 full
const ringX=[-5.17,-5.15,-5.1,-5.02,-4.92,-4.78,-4.6,-4.42,-4.2,-3.96,-3.72,-3.45,-3.15,-2.8,-2.45,-2,-1.5,-1,-.5,.03,.55,1.05,1.55,2.05,2.55,3.05,3.55,4.05,4.3,4.55,4.8,5.05,5.15,5.23,5.15,5.05,4.8,4.55,4.3,4.05,3.55,3.05,2.55,2.05,1.55,1.05,.55,.03,-.5,-1,-1.5,-2,-2.45,-2.9,-3.45,-3.96,-4.2,-4.47,-4.72,-4.97,-5.07,-5.17];
const ringY=[.22,.67,1.05,1.43,1.77,2.15,2.53,2.84,3.17,3.47,3.73,3.99,4.23,4.47,4.68,4.89,5.07,5.19,5.27,5.29,5.27,5.19,5.07,4.9,4.67,4.36,3.97,3.44,3.11,2.73,2.24,1.54,1.11,.22,-.67,-1.1,-1.8,-2.29,-2.67,-3,-3.53,-3.92,-4.23,-4.46,-4.63,-4.75,-4.83,-4.85,-4.83,-4.75,-4.63,-4.46,-4.23,-3.97,-3.55,-3.03,-2.73,-2.32,-1.84,-1.17,-.77,.22];
const e1=[-4.5,2.72,-4.65,2.45,-4.75,2.2,-4.85,1.98,-4.93,1.72,-5,1.45,-5.05,1.2,-5.12,.85,-5.15,.45,-5.14,.05,-5.12,-.45,-5.05,-.85,-4.95,-1.2,-4.85,-1.55,-4.72,-1.88,-4.55,-2.18];
const e2=[-4.4,2.85,-4.2,3.15,-3.95,3.47,-3.7,3.75,-3.4,4.02,-3.1,4.25,-2.8,4.47,-2.5,4.65,-2.2,4.8,-4.35,-2.47,-4.15,-2.78,-3.85,-3.15,-3.55,-3.47,-3.2,-3.78,-2.85,-4.02,-2.6,-4.15,-2.3,-4.3,-2.05,-4.42];
const e3=[-1.9,4.93,-1.6,5.03,-1.3,5.12,-1,5.18,-.65,5.24,-.3,5.27,0,5.28,.3,5.28,.6,5.26,.9,5.2,1.2,5.15,1.5,5.08,1.85,4.97,-1.9,-4.5,-1.45,-4.65,-1.1,-4.73,-.75,-4.8,-.35,-4.83,.05,-4.85,.5,-4.83,.9,-4.78,1.3,-4.7,1.7,-4.57];
const e4=[2.1,4.87,2.5,4.7,2.95,4.42,3.35,4.13,3.75,3.77,4.05,3.44,4.25,3.18,4.45,2.87,2,-4.48,2.45,-4.28,2.9,-4.02,3.35,-3.7,3.75,-3.32,4.1,-3.05,4.35,-2.72];
const e5=[4.6,2.65,4.75,2.33,4.9,1.95,5,1.65,5.1,1.25,5.18,.75,5.22,.28,5.18,-.25,5.1,-.85,5,-1.3,4.85,-1.8,4.7,-2.1];

// (vi) M6 missing
const f1=[-2.1,2.1,-2.26,1.74,-2.25,1.66,-2.1,1.53,-1.9,1.38,-1.17,2.52,-1.41,2.1,-1.57,1.84,-2.15,2,-2.05,1.95,-2.3,1.65,-2.25,1.55,-1.95,1.4,-1.8,1.35,-1.65,1.3,-1.55,1.4,-1.45,1.55,-1.4,1.7,-1.35,1.85,-1.3,1.95,-1.2,2.05,-1.15,2.2,-1.25,2,-1.15,2.4,-1.2,2.5,-1.55,1.15,-1.5,.6,-1.45,.5,-1.4,.4,-1.35,.3,-1.3,.2,-1.2,.1,-1.1,.05,-1.2,.15,-1.55,.2,-1.8,.2,-1.85,0,-1.8,-.45,-1.7,-.55,-1.65,-.7];
const f2=[-.35,4.25,-.6,4.02,-.75,4,-.9,3.9,-.95,3.75,-1,3.65,-1.1,3.65,-1.2,3.5,-1.25,3.45,-1.4,3.05,-1.5,2.85,-1.6,2.7,-1.75,2.55,-1.95,2.32,-.95,2.85,-.85,2.95,-.75,3.1,-.65,3.2,-.5,3.35,-.35,3.55,-.2,3.65,.3,3.85,.5,3.95,.65,3.98,.8,4.1,.95,4.15,1.1,4.25,1.25,4.3,1.35,4.4,-2.25,1.25,-2.15,1.3,-2.05,1.35,-2.2,1.15,-2.25,.85,-2.2,.65,-2.2,.45,-2.1,.9,-2.1,.7,-2.15,.3,-1.9,.6,-1.05,-.2,-1,-.2,-.95,-.3,-.85,-.35,-.75,-.4,-.7,-.5,-.6,-.55,-.55,-.7,-.45,-.95,-.4,-1.1,-.3,-1.15,-.25,-1.3,-.2,-1.5,-.15,-1.6,0,-1.85,.05,-1.95,.1,-2,.15,-2.15,.2,-2.3,.3,-2.55,.32,-2.7,.4,-2.8,.4,-2.95,-1.2,-1.8,-1.15,-1.95,-.35,-2.95,-.3,-3,-.2,-3,-.1,-3.05];
const f3=[0,4.5,.1,4.6,.3,4.75,.32,4.8,.4,4.78,.42,4.7,.45,4.55,.5,4.4,.55,4.2,.6,4.18,1.45,4.4,1.6,4.5,1.7,4.45,1.8,4.6,1.9,4.5,2,4.55,2.15,4.65,2.25,4.6,2.4,4.75,2.6,4.75,2.75,4.8,2.95,4.85,3.2,4.9,3.45,4.95,3.6,4.92,3.75,4.95,3.9,5,4,5.05,4.2,5.02,4.35,5.08,4.55,4.95,4.7,4.97,4.35,4.95,4.15,5,3.85,4.9,-1.9,-.15,-1.8,-.3,-1.75,-.35,-1.85,-.9,-1.75,-1,-1.6,-1.2,-1.65,-1.45,-1.6,-1.55,-1.5,-1.65,-1.5,-1.85,-1.45,-1.75,-1.3,-1.9,-1.15,-2.1,-1.25,-2.25,-1.45,-2.1,-1.55,-2.35,-1.65,-2,-1.8,-1.8,-1.95,-1.75,-2.05,-1.75,-2.1,-1.8,-.05,-3.65,-.1,-3.75,-.05,-3.75,.4,-3.55,.5,-3.3,.55,-3.55,.65,-3.65,.75,-3.55,.85,-3.65,.95,-3.75,1.05,-3.8,1.15,-3.8,1.2,-3.7,1.3,-3.75,1.5,-3.8,1.7,-3.9,1.9,-4,2,-4.02,2.15,-4.05,2.3,-4.1,2.45,-4.12,2.65,-4.2,2.75,-4.2,2.9,-4.2,.55,-3.7,.45,-3.85,.5,-3.9,.65,-3.75,.3,-3.9,.4,-3.95,.4,-3.1];
const f4=[.4,4.22,.4,4,.6,4.05,.15,3.95,.1,3.85,0,3.7,-.15,3.65,-.25,3.5,-.4,3.35,-.5,3.2,-.65,3.05,-.75,2.9,-.85,2.8,-.95,2.65,-1,2.45,-1,2.6,-.8,2.95,-.7,3,4.85,5.1,5,5.05,5.15,5.02,5.3,4.98,5.45,4.95,5.55,4.85,5.6,4.95,5,4.9,5.2,4.85,5.3,4.85,5.4,4.75,5.65,4.75,6,4.9,6.1,4.85,6,4.55,6.15,4.4,6.2,4.45,6.25,4.65,6.45,4.55,6.6,4.45,6.75,4.38,6.85,3.95,7.05,4.25,7.15,4.2,7.25,4.1,7.05,3.75,7.15,3.6,7.35,3.9,7.45,3.75,7.55,3.55,7.6,3.45,7.65,3.3,7.4,3,-1.6,-1.25,-1.4,-1.4,-1.2,-1.5,-1,-1.7,-.85,-1.95,-.75,-2,-.95,-2.2,-.8,-2.3,-.65,-2.45,-.5,-2.55,-.45,-2.75,-.3,-2.95,-.2,-3,-.1,-3.1,0,-3.2,.1,-3.3,.2,-3.4,.35,-3.35,.5,-3.45,.65,-3.5,.6,-3.2,.45,-3.2,-.1,-3.5,0,-3.55,.15,-3.7,-2.35,-2,-2.45,-2.15,-2.4,-1.85,-2.3,-1.95,-2.35,-2.35,-2.25,-2.5,-2.3,-2.65,-2.25,-2.85,-2.15,-2.7,-2,-2.65,-1.85,-2.55,-1.75,-2.6,-1.6,-2.5,-1.45,-2.45,-1.35,-2.35,-1.25,-2.3,-1.6,-2.35,3,-4.3,3.2,-4.32,3.35,-4.3,3.5,-4.35,3.7,-4.35,3.85,-4.3,4,-4.25,4.15,-4.38,4.3,-4.38,4.45,-4.3,4.6,-4.25,4.8,-4.2,4.95,-4.1,5.1,-4,5.2,-3.95,5.35,-3.9,5.5,-3.8,5.65,-3.75,5.8,-3.55,5.95,-3.5];
const f5=[-1.2,2.2,-1.25,2,-1.35,1.9,-1.4,1.75,-1.5,1.6,-1.6,1.45,-1.7,1.35,-1.55,1.25,-1.65,1.1,-1.9,1.05,-2,1,-1.75,1,-1.65,.85,-1.85,.8,-1.6,.7,-1.7,.55,-1.85,.5,-2,.45,-2.15,.4,-1.65,.3,-1.65,.15,-2.3,-.05,-2.2,-.2,-2.15,-.35,-2.05,-.5,-1.95,-.6,-1.85,-.8,-1.75,-.95,-1.65,-1.1,-1.6,-.4,-1.6,-.3,-1.55,-.55,-1.5,-.7,-1.45,-.85,-1.4,-1,-1.3,-1.2,-1.2,-1.4,-1.15,-1.55,-1.1,-1.75,-1,-1.9,-2.65,-3.3,-2.55,-3.25,-2.45,-3.2,-2.35,-3.1,-2.2,-3.05,-2.1,-2.95,-2,-2.85,-2.2,-3,7.65,3,7.7,3.2,7.6,2.9,7.7,2.6,7.75,3.45,7.8,3.25,7.9,3.05,7.95,2.8,7.95,2.6,7.95,2.3,8,2,8.05,1.9,8.02,1.8,7.85,1.65,7.95,1.6,8.1,1.55,8,1.3,8.15,1.25,8.05,1.05,8.12,1,8.15,.95,8.05,.8,8.15,.65,8.18,.55,8.15,.35,8.05,.2,8.1,0,8.15,-.2,8.18,-.35,8.08,-.5,8.05,-.65,8.02,-.8,8,-.95,7.95,-1.1,7.92,-1.3,7.9,-1.45,7.8,-1.55,7.7,-1.75,7.55,-1.85,7.4,-2.05,7.2,-2.3,7.05,-2.55,6.95,-2.7,6.8,-2.8,6.65,-2.85,6.5,-3.05,6.3,-3,6.25,-3.15,6,-3.2,5.85,-3.4,5.75,-3.4,7.1,-2.35,6.85,-2.6,6.55,-2.9];

const panels=[
 {left:18,top:9,w:480,h:324,xd:[-7.89,9.56],yd:[-4.14,4.99],xt:[-6,-4,-2,0,2,4,6,8],yt:[-4,-2,0,2,4],xf:0,yf:0,d:[a1,a2,a3,a4,a5]},
 {left:583.5,top:9,w:479,h:324,xd:[-8,10.36],yd:[-1.22,2.01],xt:[-5,0,5,10],yt:[-1,0,1,2],xf:0,yf:0,d:[b1,b2,b3,b4,b5]},
 {left:33,top:458,w:464,h:307,xd:[-1.535,1.555],yd:[-1.413,1.435],xt:[-1.5,-1,-.5,0,.5,1,1.5],yt:[-1,-.5,0,.5,1],xf:1,yf:1,d:[c1,c2,c3,c4,c5],title:"Full Data",tx:265},
 {left:584,top:458,w:478.7,h:307,xd:[-2.584,3.825],yd:[-3.676,2.912],xt:[-2,-1,0,1,2,3],yt:[-3,-2,-1,0,1,2],xf:0,yf:0,d:[d4,d1,d2,d3_,d5],order:[3,0,1,2,4],title:"Missing Data",tx:823},
 {left:18.3,top:871,w:479.7,h:324.7,xd:[-5.425,5.6],yd:[-5.155,5.526],xt:[-4,-2,0,2,4],yt:[-4,-2,0,2,4],xf:0,yf:0,d:[e1,e2,e3,e4,e5],ring:true},
 {left:583.7,top:871,w:479,h:324.7,xd:[-3.09,8.48],yd:[-4.7,5.476],xt:[-2.5,0,2.5,5,7.5],yt:[-4,-2,0,2,4],xf:1,yf:0,d:[f1,f2,f3,f4,f5]}
];
const legendX=[519.3,1084.7,519.3,1084.7,519.3,1084.7];
const legendY=[19.7,19.7,451.7,451.7,882.3,882.3];
const captions=[
 ["(i) ","4"," with full data",282,382],["(ii) ","4"," with missing data",847,382],
 ["(iii) ","5"," with full Data",283,812],["(iv) ","5"," with missing Data",847,812],
 ["(v) ","6"," with full data",282,1243],["(vi) ","6"," with missing data",847,1243]];

const page=document.getElementById("page");
const toRows=a=>{const r=[];for(let i=0;i+1<a.length;i+=2)r.push({x:a[i],y:a[i+1]});return r;};
const ML=34,MB=24,MT=2,MR=4;
panels.forEach((p,pi)=>{
  const tick=(p.yd[1]-p.yd[0])*.012, tickx=(p.xd[1]-p.xd[0])*.006;
  const marks=[
    Plot.ruleX(p.xt,{stroke:"#000",strokeOpacity:.13}),
    Plot.ruleY(p.yt,{stroke:"#000",strokeOpacity:.11}),
    Plot.ruleX(p.xt,{y1:p.yd[0],y2:p.yd[0]+tick,stroke:"#333"}),
    Plot.ruleY(p.yt,{x1:p.xd[0],x2:p.xd[0]+tickx,stroke:"#333"}),
    Plot.ruleX([p.xd[0]],{stroke:"#666",strokeWidth:1.2}),
    Plot.ruleY([p.yd[0]],{stroke:"#666",strokeWidth:1.4}),
    Plot.axisX(p.xt,{tickSize:0,tickPadding:6,fontSize:9.5,fill:"#333",stroke:null,label:null,tickFormat:d=>d.toFixed(p.xf)}),
    Plot.axisY(p.yt,{tickSize:0,tickPadding:5,fontSize:9.5,fill:"#333",stroke:null,label:null,tickFormat:d=>d.toFixed(p.yf)})
  ];
  if(p.ring){
    marks.push(Plot.line(ringX.map((x,i)=>({x,y:ringY[i]})),{x:"x",y:"y",stroke:"#0c0c0c",strokeWidth:7,curve:"catmull-rom"}));
    p.d.forEach((a,i)=>marks.push(Plot.dot(toRows(a),{x:"x",y:"y",r:2.9,fill:seriesColors[i],fillOpacity:.85,stroke:"#0a0a0a",strokeWidth:.7})));
  } else {
    const order=p.order||[0,1,2,3,4];
    p.d.forEach((a,i)=>marks.push(Plot.dot(toRows(a),{x:"x",y:"y",r:4.5,fill:seriesColors[order[i]],stroke:"#161616",strokeWidth:1})));
  }
  const svg=Plot.plot({width:p.w+ML+MR,height:p.h+MT+MB,marginLeft:ML,marginRight:MR,marginTop:MT,marginBottom:MB,
    style:{background:"none",overflow:"visible",fontFamily:"'Liberation Sans',sans-serif"},
    x:{domain:p.xd,label:null},y:{domain:p.yd,label:null},marks});
  svg.style.left=(p.left-ML)+"px";svg.style.top=(p.top-MT)+"px";
  page.appendChild(svg);
  seriesNames.forEach((n,i)=>{
    const yy=legendY[pi]+i*18;
    const dot=document.createElement("div");dot.className="lgd";
    dot.style.cssText=`left:${legendX[pi]-5}px;top:${yy-5}px;background:${seriesColors[i]}`;page.appendChild(dot);
    const t=document.createElement("div");t.className="lg";t.textContent=n;
    t.style.cssText=`left:${legendX[pi]+19}px;top:${yy-5}px`;page.appendChild(t);
  });
  if(p.title){const t=document.createElement("div");t.className="ttl";t.textContent=p.title;t.style.cssText=`left:${p.tx}px;top:441px`;page.appendChild(t);}
});
captions.forEach(c=>{
  const e=document.createElement("div");e.className="cap";
  e.innerHTML=`${c[0]}<i>M</i><sub>${c[1]}</sub>${c[2]}`;
  e.style.left=c[3]+"px";e.style.top=c[4]+"px";page.appendChild(e);
});
</script></body></html>
